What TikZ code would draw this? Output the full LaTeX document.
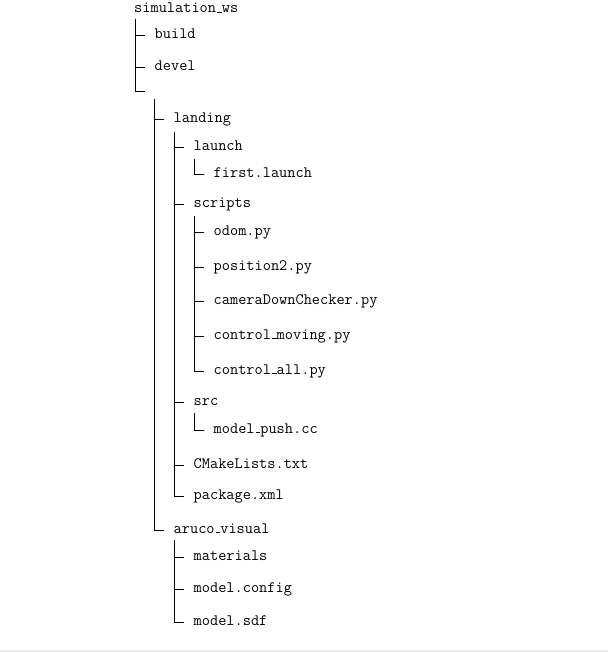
\documentclass[tikz,border=0pt]{standalone}
% short baseline rule used for underscores in file names
\newcommand{\lowbar}{\leavevmode\kern.06em\vbox{\hrule width.3em height .06em}}
\begin{document}
\begin{tikzpicture}[x=1pt,y=-1pt,
  item/.style={anchor=west, inner xsep=9.5pt, inner ysep=0pt,
    text height=0.62em, text depth=0pt,
    font=\ttfamily\fontsize{15.9}{18}\selectfont},
  branch/.style={draw=black, line width=0.9pt}]
\useasboundingbox (0,-2) rectangle (608,650);
\fill[black!8] (0,647.5) rectangle (608,650);

% workspace root
\node[item] (root) at (124.5,7.5) {simulation\lowbar ws};
\coordinate (rootT) at (135,17);
\node[item] (build) at (145,33) {build};
\node[item] (devel) at (145,65) {devel};
\coordinate (blank) at (145,89);
\draw[branch] (rootT) |- (build.west);
\draw[branch] (rootT) |- (devel.west);
\draw[branch] (rootT) |- (blank);

% source packages
\coordinate (blankT) at (154,97);
\node[item] (landing) at (164,117) {landing};
\node[item] (aruco) at (164,528) {aruco\lowbar visual};
\draw[branch] (blankT) |- (landing.west);
\draw[branch] (blankT) |- (aruco.west);

% landing package
\coordinate (landingT) at (174,130);
\node[item] (launch) at (184,145) {launch};
\node[item] (scripts) at (184,202) {scripts};
\node[item] (src) at (184,400) {src};
\node[item] (cmake) at (184,463) {CMakeLists.txt};
\node[item] (pkg) at (184,494) {package.xml};
\foreach \n in {launch,scripts,src,cmake,pkg}
  \draw[branch] (landingT) |- (\n.west);

\coordinate (launchT) at (194,157);
\node[item] (first) at (204,172) {first.launch};
\draw[branch] (launchT) |- (first.west);

\coordinate (scriptsT) at (194,214);
\node[item] (odom) at (204,230) {odom.py};
\node[item] (pos) at (204,265) {position2.py};
\node[item] (cam) at (204,299) {cameraDownChecker.py};
\node[item] (moving) at (204,334) {control\lowbar moving.py};
\node[item] (all) at (204,369) {control\lowbar all.py};
\foreach \n in {odom,pos,cam,moving,all}
  \draw[branch] (scriptsT) |- (\n.west);

\coordinate (srcT) at (194,411);
\node[item] (push) at (204,428) {model\lowbar push.cc};
\draw[branch] (srcT) |- (push.west);

% aruco_visual model
\coordinate (arucoT) at (174,538);
\node[item] (mat) at (184,555) {materials};
\node[item] (config) at (184,587) {model.config};
\node[item] (sdf) at (184,620) {model.sdf};
\foreach \n in {mat,config,sdf}
  \draw[branch] (arucoT) |- (\n.west);
\end{tikzpicture}
\end{document}
